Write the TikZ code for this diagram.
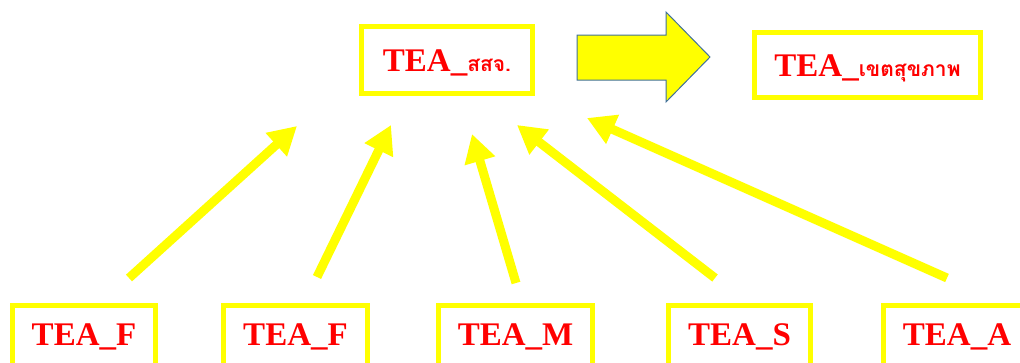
\documentclass[tikz,border=0pt]{standalone}
\usepackage{fontspec}
\setmainfont{Liberation Serif}
\newfontfamily\thaifont[Script=Thai]{Loma}
\usetikzlibrary{arrows.meta,positioning}
\definecolor{boxyellow}{RGB}{255,255,0}
\definecolor{labelred}{RGB}{255,0,0}
\definecolor{edgeblue}{RGB}{65,113,156}

\begin{document}
\begin{tikzpicture}[x=1pt, y=-1pt,
  tea/.style={draw=boxyellow, line width=5pt, fill=white, minimum height=59pt, inner sep=0pt, font=\bfseries\fontsize{33}{33}\selectfont, text=labelred, text height=22pt, text depth=0pt},
  low/.style={tea, minimum height=70pt, text depth=12pt},
  up/.style={draw=boxyellow, line width=9pt, -{Triangle[length=28pt, width=30pt]}}]
  \clip (0,0) rectangle (1020,362);
  \fill[white] (0,0) rectangle (1020,362);
  % upper level
  \node[tea, minimum width=171pt, minimum height=67pt] (ssj) at (447,60) {TEA\_{\thaifont\fontsize{21}{21}\selectfont สสจ.}};
  \node[tea, minimum width=226pt, minimum height=65pt] (khet) at (867.5,65) {TEA\_{\thaifont\fontsize{21}{21}\selectfont เขตสุขภาพ}};
  \draw[fill=boxyellow, draw=edgeblue, line width=1pt] (577,35) -- (666,35) -- (666,12) -- (710,57) -- (666,102) -- (666,80) -- (577,80) -- cycle;
  % lower level
  \node[low, minimum width=143pt] (f1) at (84,340) {TEA\_F};
  \node[low, minimum width=144pt] (f2) at (295.5,340) {TEA\_F};
  \node[low, minimum width=154pt] (m) at (515.5,340) {TEA\_M};
  \node[low, minimum width=142pt] (s) at (739.5,340) {TEA\_S};
  \node[low, minimum width=147pt] (a) at (957,340) {TEA\_A};
  % arrows
  \coordinate (f1tail) at (129,278);  \coordinate (f1tip) at (297,126);
  \coordinate (f2tail) at (317,277);  \coordinate (f2tip) at (391,125);
  \coordinate (mtail) at (516,283);   \coordinate (mtip) at (472,134);
  \coordinate (stail) at (715,278);   \coordinate (stip) at (517,125);
  \coordinate (atail) at (947,278);   \coordinate (atip) at (587,118);
  \draw[up] (f1tail) -- (f1tip);
  \draw[up] (f2tail) -- (f2tip);
  \draw[up] (mtail) -- (mtip);
  \draw[up] (stail) -- (stip);
  \draw[up] (atail) -- (atip);
\end{tikzpicture}
\end{document}
